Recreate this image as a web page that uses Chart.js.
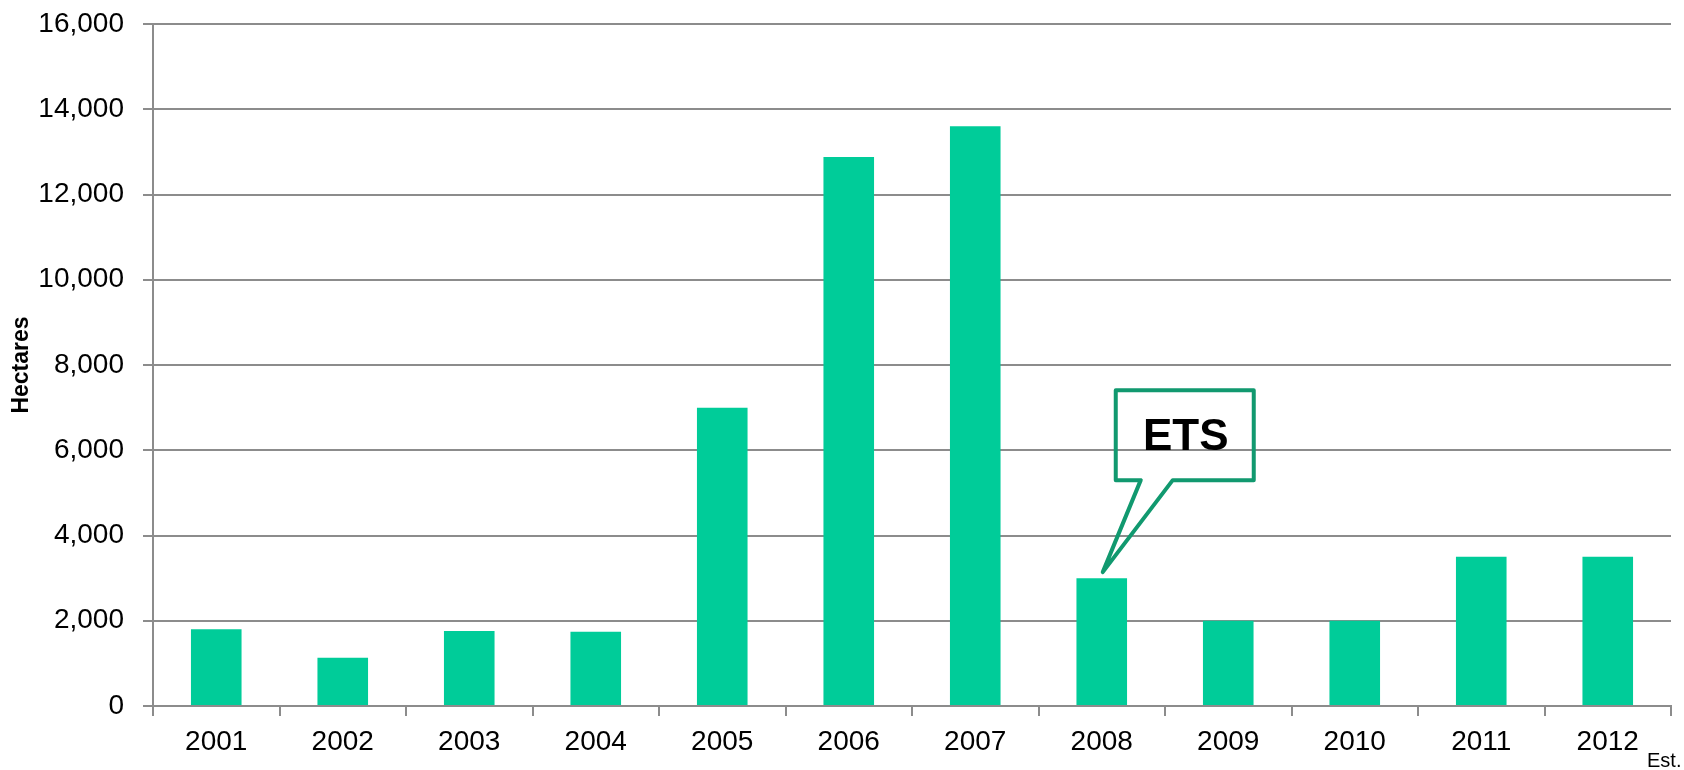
<!DOCTYPE html>
<html>
<head>
<meta charset="utf-8">
<script src="https://cdn.jsdelivr.net/npm/chart.js@4.4.1/dist/chart.umd.min.js"></script>
<style>
  html, body { margin: 0; padding: 0; background: #fff; }
  #wrap { width: 1684px; height: 770px; }
</style>
</head>
<body>
<div id="wrap"><canvas id="areaChart"></canvas></div>
<script>
// Hectares per year (2012 is an estimate)
const years = ['2001', '2002', '2003', '2004', '2005', '2006', '2007', '2008', '2009', '2010', '2011', '2012'];
const hectares = [1800, 1130, 1760, 1740, 7000, 12880, 13600, 3000, 2000, 2000, 3500, 3500];
const calloutYear = '2008';
const calloutText = 'ETS';
const estNote = 'Est.';

const FONT = "'Liberation Sans', Arial, sans-serif";
const GRID = '#8c8c8c';

// Draws the speech bubble over the 2008 bar and the small "Est." note
const calloutPlugin = {
  id: 'callout',
  afterDatasetsDraw(chart) {
    const ctx = chart.ctx;
    const xs = chart.scales.x;
    const ys = chart.scales.y;
    const i = years.indexOf(calloutYear);
    const x = xs.getPixelForValue(i);
    const y = ys.getPixelForValue(hectares[i]);

    ctx.save();
    ctx.strokeStyle = '#11996f';
    ctx.lineWidth = 4;
    ctx.lineJoin = 'round';
    ctx.beginPath();
    ctx.moveTo(x + 39, y - 98);
    ctx.lineTo(x + 14, y - 98);
    ctx.lineTo(x + 14, y - 188);
    ctx.lineTo(x + 152, y - 188);
    ctx.lineTo(x + 152, y - 98);
    ctx.lineTo(x + 71, y - 98);
    ctx.lineTo(x + 1, y - 6);
    ctx.closePath();
    ctx.stroke();

    ctx.fillStyle = '#000';
    ctx.font = "bold 44px " + FONT;
    ctx.textAlign = 'center';
    ctx.textBaseline = 'middle';
    ctx.fillText(calloutText, x + 84, y - 140);

    ctx.font = "20px " + FONT;
    ctx.textAlign = 'left';
    ctx.textBaseline = 'alphabetic';
    ctx.fillText(estNote, xs.right - 24, ys.bottom + 61);
    ctx.restore();
  }
};

const ctx = document.getElementById('areaChart').getContext('2d');
new Chart(ctx, {
  type: 'bar',
  data: {
    labels: years,
    datasets: [{
      label: 'Hectares',
      data: hectares,
      backgroundColor: '#00cc99',
      borderWidth: 0,
      barPercentage: 0.4,
      categoryPercentage: 1
    }]
  },
  options: {
    responsive: true,
    maintainAspectRatio: false,
    animation: false,
    layout: { padding: { top: 24, right: 13, bottom: 0, left: 0 } },
    plugins: {
      legend: { display: false },
      tooltip: { enabled: false }
    },
    scales: {
      x: {
        offset: true,
        grid: { offset: true, drawOnChartArea: false, drawTicks: true, tickLength: 10, color: GRID, lineWidth: 2 },
        border: { display: true, color: GRID, width: 2 },
        ticks: { color: '#000', font: { family: FONT, size: 28 }, padding: 9, maxRotation: 0 },
        afterFit(scale) { scale.height = 64; }
      },
      y: {
        min: 0,
        max: 16000,
        grid: { color: GRID, lineWidth: 2, tickLength: 10 },
        border: { display: true, color: GRID, width: 2 },
        ticks: {
          stepSize: 2000,
          color: '#000',
          padding: 19,
          font: { family: FONT, size: 28 },
          callback: v => v.toLocaleString('en-US')
        },
        title: {
          display: true,
          text: 'Hectares',
          color: '#000',
          font: { family: FONT, size: 23, weight: 'bold' },
          padding: { top: 8, bottom: 0 }
        },
        afterFit(scale) {
          scale.width = 153;
          scale.paddingTop = 0;
          scale.paddingBottom = 0;
        }
      }
    }
  },
  plugins: [calloutPlugin]
});
</script>
</body>
</html>
